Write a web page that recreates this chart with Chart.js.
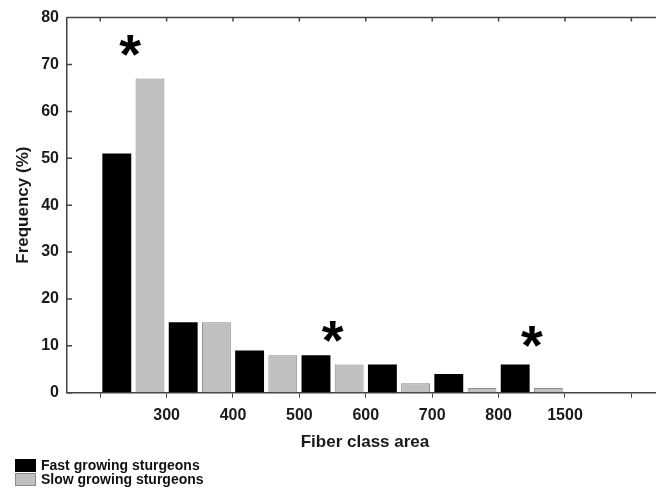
<!DOCTYPE html>
<html>
<head>
<meta charset="utf-8">
<title>Fiber class area</title>
<script src="https://cdn.jsdelivr.net/npm/chart.js@4"></script>
<style>
    html, body { margin: 0; padding: 0; background: #fff; overflow: hidden; }
    #wrap { position: relative; width: 656px; height: 492px; overflow: hidden; }
    #grafico { position: absolute; left: 0; top: 0; }
    #legenda { position: absolute; left: 15px; top: 458px; font: bold 14px "Liberation Sans", Arial, sans-serif; color: #111; }
    .item { display: flex; align-items: center; height: 14px; line-height: 14px; }
    .caixa { width: 21px; height: 13px; margin-right: 5px; box-sizing: border-box; }
</style>
</head>
<body>
<div id="wrap">
    <canvas id="grafico" width="680" height="492"></canvas>
    <div id="legenda"></div>
</div>
<script>
// dados
var seriesNames = ['Fast growing sturgeons', 'Slow growing sturgeons'];
var fastValues = [51, 15, 9, 8, 6, 4, 6];
var slowValues = [67, 15, 8, 6, 2, 1, 1];
var tickLabels = ['300', '400', '500', '600', '700', '800', '1500'];
var tickPositions = [0, 1, 2, 3, 4, 5, 6, 7, 8];
var starBins = [0.45, 3.5, 6.5];
var starValues = [73.8, 12.7, 11.7];

var corTexto = '#1a1a1a';
var corEixo = '#444';

Chart.defaults.font.family = '"Liberation Sans", Arial, sans-serif';
Chart.defaults.color = corTexto;

function paraPontos(valores) {
    return valores.map(function(v, i) {
        return { x: i + 0.5, y: v };
    });
}

// moldura superior, tracinhos internos e asteriscos
var molduraPlugin = {
    id: 'moldura',
    afterDraw: function(chart) {
        var ctx = chart.ctx;
        var area = chart.chartArea;
        var xs = chart.scales.x;
        var ys = chart.scales.y;
        ctx.save();
        ctx.strokeStyle = corEixo;
        ctx.lineWidth = 1.5;
        ctx.beginPath();
        ctx.moveTo(area.left, area.top);
        ctx.lineTo(area.right, area.top);
        tickPositions.forEach(function(v) {
            var px = xs.getPixelForValue(v);
            ctx.moveTo(px, area.top);
            ctx.lineTo(px, area.top + 4);
        });
        ys.ticks.forEach(function(t) {
            var py = ys.getPixelForValue(t.value);
            ctx.moveTo(area.left, py);
            ctx.lineTo(area.left + 5, py);
        });
        ctx.stroke();

        var tam = 56;
        ctx.font = 'bold ' + tam + 'px "Liberation Sans", Arial, sans-serif';
        ctx.textAlign = 'center';
        ctx.textBaseline = 'alphabetic';
        ctx.fillStyle = '#000';
        starBins.forEach(function(b, i) {
            var px = xs.getPixelForValue(b);
            var py = ys.getPixelForValue(starValues[i]);
            ctx.fillText('*', px, py + tam * 0.47);
        });
        ctx.restore();
    }
};

var ctx = document.getElementById('grafico').getContext('2d');
var grafico = new Chart(ctx, {
    type: 'bar',
    data: {
        datasets: [{
            label: seriesNames[0],
            data: paraPontos(fastValues),
            backgroundColor: '#000000',
            borderWidth: 0,
            barPercentage: 0.87,
            categoryPercentage: 1
        }, {
            label: seriesNames[1],
            data: paraPontos(slowValues),
            backgroundColor: '#c0c0c0',
            borderColor: '#8a8a8a',
            borderWidth: 1,
            barPercentage: 0.87,
            categoryPercentage: 1
        }]
    },
    options: {
        responsive: false,
        animation: false,
        layout: { padding: { left: 0, right: 17, top: 17, bottom: 0 } },
        plugins: {
            legend: { display: false },
            tooltip: { enabled: false }
        },
        scales: {
            x: {
                type: 'linear',
                min: -0.5,
                max: 8.476,
                offset: false,
                grid: { drawOnChartArea: false, drawTicks: true, tickLength: 5, color: corEixo, offset: false },
                border: { display: true, color: corEixo, width: 1.5 },
                afterBuildTicks: function(scale) {
                    scale.ticks = tickPositions.map(function(v) { return { value: v }; });
                },
                afterFit: function(scale) { scale.height = 99.3; },
                ticks: {
                    autoSkip: false,
                    maxRotation: 0,
                    padding: 8,
                    color: corTexto,
                    font: { size: 16, weight: 'bold' },
                    callback: function(v) {
                        return tickLabels[v - 1] || '';
                    }
                },
                title: {
                    display: true,
                    text: 'Fiber class area',
                    color: corTexto,
                    font: { size: 17, weight: 'bold' },
                    padding: { top: 0, bottom: 39 }
                }
            },
            y: {
                min: 0,
                max: 80,
                grid: { drawOnChartArea: false, drawTicks: false },
                border: { display: true, color: corEixo, width: 1.5 },
                afterFit: function(scale) { scale.width = 67; },
                ticks: {
                    stepSize: 10,
                    padding: 8,
                    color: corTexto,
                    font: { size: 16, weight: 'bold' }
                },
                title: {
                    display: true,
                    text: 'Frequency (%)',
                    color: corTexto,
                    font: { size: 17, weight: 'bold' },
                    padding: { top: 13, bottom: 0 }
                }
            }
        }
    },
    plugins: [molduraPlugin]
});

// legenda em HTML, empilhada no canto inferior esquerdo
var legenda = document.getElementById('legenda');
grafico.data.datasets.forEach(function(ds) {
    var item = document.createElement('div');
    item.className = 'item';
    var caixa = document.createElement('span');
    caixa.className = 'caixa';
    caixa.style.background = ds.backgroundColor;
    if (ds.borderWidth) caixa.style.border = '1px solid ' + ds.borderColor;
    var texto = document.createElement('span');
    texto.textContent = ds.label;
    item.appendChild(caixa);
    item.appendChild(texto);
    legenda.appendChild(item);
});
</script>
</body>
</html>
